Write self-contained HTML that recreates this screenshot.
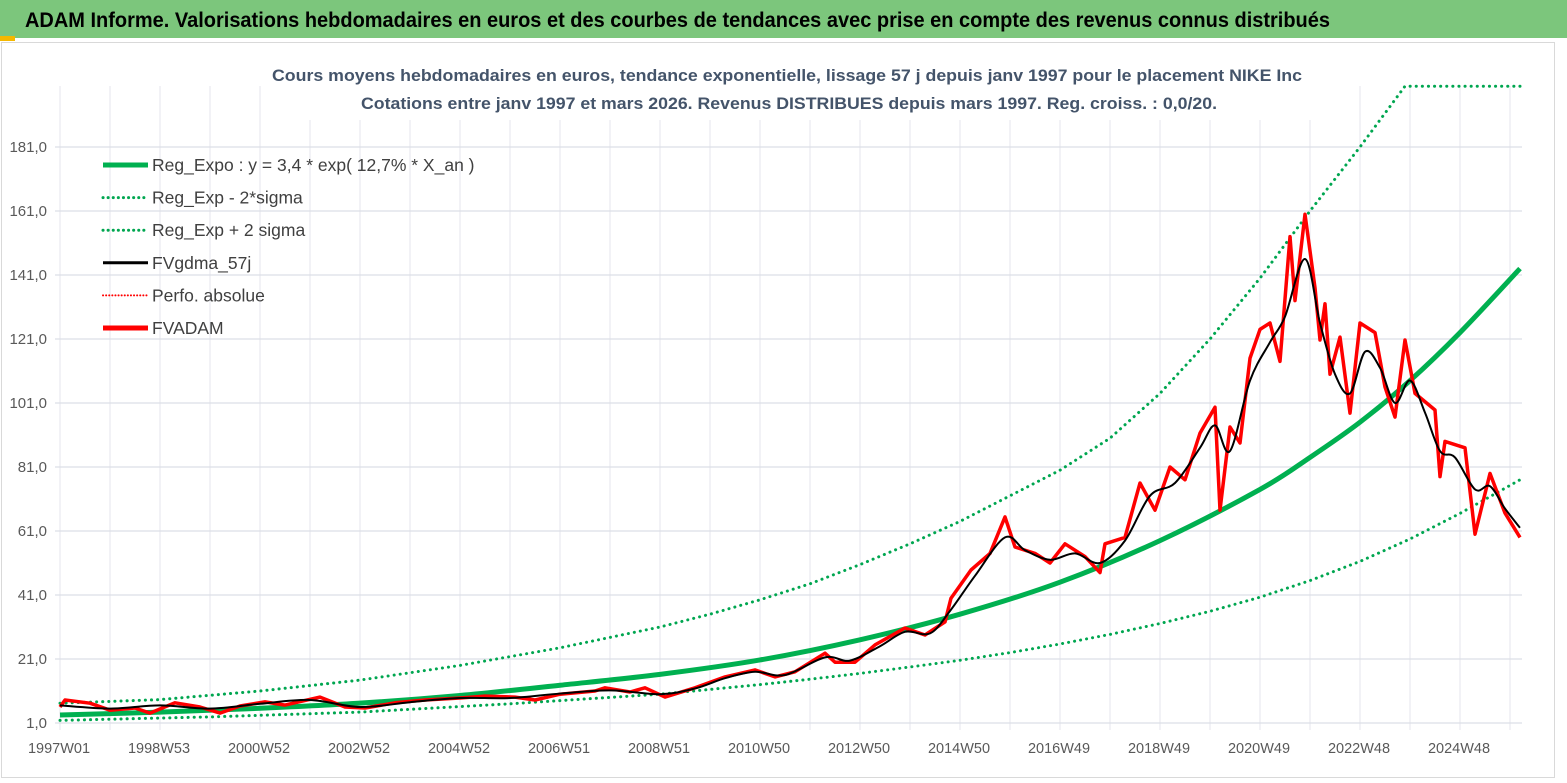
<!DOCTYPE html>
<html><head><meta charset="utf-8"><style>
html,body{margin:0;padding:0;background:#fff;width:1567px;height:783px;overflow:hidden}
svg{display:block;font-family:"Liberation Sans",sans-serif}
</style></head><body>
<svg id="chart" width="1567" height="783" viewBox="0 0 1567 783">
<rect x="0" y="0" width="1567" height="38" fill="#7cc67c"/>
<rect x="0" y="36" width="15" height="5" fill="#f5b800"/>
<text x="25" y="27" font-size="21" font-weight="bold" fill="#000" textLength="1305" lengthAdjust="spacingAndGlyphs">ADAM Informe. Valorisations hebdomadaires en euros et des courbes de tendances avec prise en compte des revenus connus distribués</text>
<rect x="1.5" y="42.5" width="1553" height="735" fill="none" stroke="#d9d9d9"/>
<g id="grid"></g>
<rect x="262" y="58" width="1050" height="62" fill="#fff"/>
<text x="787" y="81" text-anchor="middle" font-size="17" font-weight="bold" fill="#44546a" textLength="1030" lengthAdjust="spacingAndGlyphs">Cours moyens hebdomadaires en euros, tendance exponentielle, lissage 57 j depuis janv 1997 pour le placement NIKE Inc</text>
<text x="789" y="109" text-anchor="middle" font-size="17" font-weight="bold" fill="#44546a" textLength="856" lengthAdjust="spacingAndGlyphs">Cotations entre janv 1997 et mars 2026. Revenus DISTRIBUES depuis mars 1997. Reg. croiss. : 0,0/20.</text>
<g id="axes"></g>
<g id="series"></g>
<g id="legend"></g>
</svg>
<script>
const yTicks = [1, 21, 41, 61, 81, 101, 121, 141, 161, 181];
const xTickLabels = ["1997W01","1998W53","2000W52","2002W52","2004W52","2006W51","2008W51","2010W50","2012W50","2014W50","2016W49","2018W49","2020W49","2022W48","2024W48"];
const xTickYears = [1997,1999,2001,2003,2005,2007,2009,2011,2013,2015,2017,2019,2021,2023,2025];

const regYears = [1997,1999,2001,2003,2005,2007,2009,2011,2013,2015,2017,2019,2021,2022,2023,2024,2025,2026.2];
const regVals  = [3.5,4.4,5.6,7.2,9.6,12.8,16.2,20.7,27,35,45,58,74,84,95,108,123,143];

const upYears = [1997,1999,2001,2003,2005,2007,2009,2010,2011,2012,2013,2014,2015,2016,2017,2018,2019,2020,2021,2022,2023,2023.9,2026.2];
const upVals  = [7.2,8.3,11,14.4,19,24.5,31,35,39.5,44.5,50.5,57,64,72,80,90,104,121,140,161,181,200,200];

const loYears = [1997,1998,2000,2003,2006,2009,2011,2012,2013,2014,2015,2016,2017,2018,2019,2020,2021,2022,2023,2024,2025,2026.2];
const loVals  = [1.8,2.2,2.9,4.4,7,10,13,14.7,16.5,18.5,20.6,23,25.7,28.7,32.1,35.9,40.3,45.5,51.5,58.5,66.5,77];

const smYears = [1997,1998,1999,2000,2001,2002,2003,2004,2005,2006,2007,2008,2009,2009.7,2010.3,2010.9,2011.5,2012.3,2012.8,2013.4,2013.9,2014.4,2014.8,2015.3,2015.9,2016.3,2016.8,2017.3,2017.8,2018.3,2018.8,2019.3,2019.8,2020.1,2020.4,2020.8,2021.2,2021.5,2021.9,2022.2,2022.5,2022.8,2023.1,2023.4,2023.7,2024.0,2024.3,2024.6,2024.9,2025.3,2025.6,2025.9,2026.2];
const smVals  = [6.5,5.5,6.5,5.5,7,8.2,6,7.5,8.8,8.8,10.2,11.2,10,11.8,15,17,16,21.5,20.5,25,29.5,29,36,47,59,55,52,54,51,58,72,76,87,94,86,108,120,128,146,126,110,104,117,112,101,108,98,86,84,74,75,68,62];

const fvYears = [1997,1997.1,1997.6,1998,1998.5,1998.8,1999.3,1999.8,2000.2,2000.6,2001.1,2001.5,2002.2,2002.7,2003.1,2003.7,2004.3,2005,2005.5,2006.1,2006.5,2007,2007.7,2007.9,2008.4,2008.7,2009.1,2009.7,2010.3,2010.9,2011.3,2011.7,2012.3,2012.5,2012.9,2013.3,2013.9,2014.3,2014.7,2014.82,2015.22,2015.6,2015.9,2016.1,2016.5,2016.8,2017.1,2017.5,2017.8,2017.9,2018.3,2018.6,2018.9,2019.2,2019.5,2019.8,2020.1,2020.2,2020.4,2020.6,2020.8,2021.0,2021.2,2021.4,2021.6,2021.7,2021.9,2022.1,2022.2,2022.3,2022.4,2022.6,2022.8,2023.0,2023.3,2023.5,2023.7,2023.9,2024.1,2024.5,2024.6,2024.7,2025.1,2025.3,2025.6,2025.9,2026.2];
const fvVals  = [6,8.2,7.2,5,5.7,4.1,7.3,6,4.1,6.3,7.6,6.6,9.1,6,5.7,7.3,8.2,8.8,9.4,9.1,8.2,10,11,12,10.7,12,9.1,12,15.4,17.6,15.4,17,22.8,20,20,25.4,30.7,28.5,32.6,40,48.8,54,65.4,56,54,51,57,53,48,57,59,76,67.5,81,77,91.6,99.7,67.5,93.5,88.5,115,124,126,114,153,133,160,137,120.7,132,110,121.6,97.8,126,123,106,96.6,120.7,104,98.8,78,89,87,60,79,66.6,59];

const NS = "http://www.w3.org/2000/svg";
const X0 = 60, PX_PER_YEAR = 50, Y0 = 723, PX_PER_UNIT = 3.2;
function xs(yr){ return X0 + (yr - 1997) * PX_PER_YEAR; }
function ys(v){ return Y0 - (v - 1) * PX_PER_UNIT; }
function mk(tag, attrs, parent){ const e = document.createElementNS(NS, tag); for (const k in attrs) e.setAttribute(k, attrs[k]); parent.appendChild(e); return e; }

const grid = document.getElementById('grid');
for (let yr = 1997; yr <= 2026; yr++) {
  const l = mk('line', {x1: xs(yr), x2: xs(yr), y1: 86, y2: 730, stroke: '#e4e6ec', 'stroke-width': 1}, grid);
  
  
}
yTicks.forEach(v => {
  const l = mk('line', {x1: 55, x2: 1522, y1: ys(v), y2: ys(v), stroke: '#dcdfe6', 'stroke-width': 1.3}, grid);
  
  
});

const axes = document.getElementById('axes');
yTicks.forEach(v => {
  const t = mk('text', {x: 47, y: ys(v) + 5, 'text-anchor': 'end', 'font-size': 15, fill: '#595959'}, axes);
  t.textContent = v.toFixed(1).replace('.', ',');
  
  
});
xTickLabels.forEach((lab, i) => {
  const t = mk('text', {x: xs(xTickYears[i]) - 1, y: 753, 'text-anchor': 'middle', 'font-size': 14.5, fill: '#595959'}, axes);
  t.textContent = lab;
  
  
});

const series = document.getElementById('series');
function pathFrom(years, vals){ return years.map((y, i) => (i ? 'L' : 'M') + xs(y).toFixed(1) + ',' + ys(vals[i]).toFixed(1)).join(' '); }
function smoothFrom(years, vals){
  const p = years.map((y, i) => [xs(y), ys(vals[i])]);
  let d = 'M' + p[0][0] + ',' + p[0][1];
  for (let i = 0; i < p.length - 1; i++) {
    const p0 = p[i-1] || p[i], p1 = p[i], p2 = p[i+1], p3 = p[i+2] || p2;
    const c1 = [p1[0] + (p2[0]-p0[0])/6, p1[1] + (p2[1]-p0[1])/6];
    const c2 = [p2[0] - (p3[0]-p1[0])/6, p2[1] - (p3[1]-p1[1])/6];
    d += ' C' + c1.join(',') + ' ' + c2.join(',') + ' ' + p2.join(',');
  }
  return d;
}
const lo = mk('path', {d: pathFrom(loYears, loVals), fill: 'none', stroke: '#00a650', 'stroke-width': 3, 'stroke-dasharray': '0.1 6', 'stroke-linecap': 'round'}, series);


const up = mk('path', {d: pathFrom(upYears, upVals), fill: 'none', stroke: '#00a650', 'stroke-width': 3, 'stroke-dasharray': '0.1 6', 'stroke-linecap': 'round'}, series);


const rg = mk('path', {d: smoothFrom(regYears, regVals), fill: 'none', stroke: '#00b050', 'stroke-width': 5}, series);


const fv = mk('path', {d: pathFrom(fvYears, fvVals), fill: 'none', stroke: '#ff0000', 'stroke-width': 3.5, 'stroke-linejoin': 'round'}, series);


const sm = mk('path', {d: smoothFrom(smYears, smVals), fill: 'none', stroke: '#000', 'stroke-width': 2}, series);



const legend = document.getElementById('legend');
const legLabels = ["Reg_Expo : y = 3,4 * exp( 12,7% *  X_an )", "Reg_Exp - 2*sigma", "Reg_Exp + 2 sigma", "FVgdma_57j", "Perfo. absolue", "FVADAM"];
const legColors = ['#00b050','#00a650','#00a650','#000','#ff0000','#ff0000'];
const legWidths = [5,3,3,3,2,5];
const legDash = [null,'0.1 5','0.1 5',null,'0.1 3',null];
legLabels.forEach((lab, i) => {
  const y = 165 + i * 32.6;
  const g = mk('g', {}, legend);
  
  
  const attrs = {x1: 103, x2: 148, y1: y, y2: y, stroke: legColors[i], 'stroke-width': legWidths[i]};
  if (legDash[i]) { attrs['stroke-dasharray'] = legDash[i]; attrs['stroke-linecap'] = 'round'; }
  const l = mk('line', attrs, g);
  
  
  const t = mk('text', {x: 152, y: y + 6, 'font-size': 17.5, fill: '#404040'}, g);
  t.textContent = lab;
  
  
});
</script>
</body></html>
